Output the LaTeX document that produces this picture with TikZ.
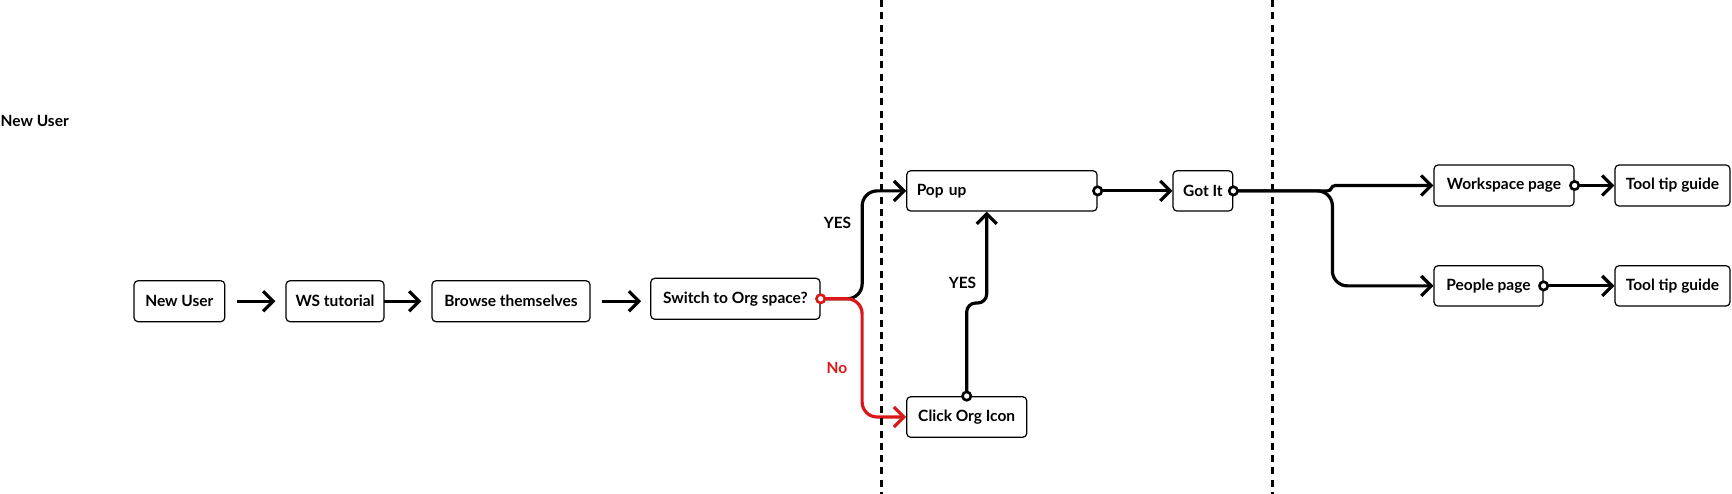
\documentclass[tikz,border=0pt]{standalone}
\usepackage{fontspec}
\setmainfont{Lato}
\usetikzlibrary{arrows.meta}
\definecolor{redline}{RGB}{218,24,24}
\begin{document}
\begin{tikzpicture}[x=1pt,y=-1pt,
  box/.style={draw=black, line width=1.2pt, rounded corners=4pt, inner sep=0pt,
    font=\bfseries\fontsize{15.5}{18}\selectfont, align=center},
  lbl/.style={font=\bfseries\fontsize{15.5}{18}\selectfont, inner sep=0pt},
  arr/.style={line width=3.2pt, -{Straight Barb[length=10pt,width=20pt]}},
  dot/.style={line width=2.6pt, fill=white},
  divider/.style={line width=3pt, dash pattern=on 7pt off 5.3pt}]
\useasboundingbox (0,0) rectangle (1732,494);

% boxes
\node[box, minimum width=90.7pt, minimum height=41pt] (nu) at (179.4,301.2) {New User};
\node[box, minimum width=98pt, minimum height=41pt] (wst) at (335,301.2) {WS tutorial};
\node[box, minimum width=158pt, minimum height=41pt] (br) at (511,301.2) {Browse themselves};
\node[box, minimum width=169.3pt, minimum height=41pt] (sw) at (735.4,298.8) {Switch to Org space?};
\node[box, minimum height=40.3pt, text width=170.3pt, align=left, inner xsep=10pt] (pop) at (1001.9,190.9) {Pop up};
\node[box, minimum width=59.7pt, minimum height=40.3pt] (got) at (1202.9,190.9) {Got It};
\node[box, minimum width=120pt, minimum height=40.6pt] (click) at (966.7,417) {Click Org Icon};
\node[box, minimum width=140pt, minimum height=41pt] (wp) at (1504,185.5) {Workspace page};
\node[box, minimum width=115pt, minimum height=41pt] (tt1) at (1672.5,185.5) {Tool tip guide};
\node[box, minimum width=109pt, minimum height=40.3pt] (pp) at (1488.5,285.9) {People page};
\node[box, minimum width=115pt, minimum height=40.3pt] (tt2) at (1672.5,285.9) {Tool tip guide};

% labels
\node[lbl, anchor=west] (title) at (0.5,121) {New User};
\node[lbl] (yes1) at (837.5,222.5) {YES};
\node[lbl, text=redline] (no) at (837,367.5) {No};
\node[lbl] (yes2) at (962.5,282.7) {YES};

% connectors
\draw[arr] ([xshift=12pt]nu.east) -- ([xshift=-10pt]wst.west);
\draw[arr] ([xshift=-1pt]wst.east) -- ([xshift=-10pt]br.west);
\draw[arr] ([xshift=11pt]br.east) -- ([xshift=-9pt]sw.west |- br.east);

\draw[arr, rounded corners=15pt] (sw.east) -| ([xshift=-44pt]pop.west) -- (pop.west);
\draw[arr, draw=redline, rounded corners=15pt] (sw.east) -| ([xshift=-44pt]click.west) -- (click.west);
\draw[dot, draw=redline] (sw.east) circle (4.2pt);

\coordinate (kink) at (986.7,303);
\draw[arr, rounded corners=9pt] (click.north) |- (kink) -- ([xshift=-15.2pt]pop.south);
\draw[dot] (click.north) circle (4.2pt);

\draw[arr] (pop.east) -- (got.west);
\draw[dot] (pop.east) circle (4.2pt);

\draw[arr] (got.east) -- ([xshift=-106pt]wp.west |- got.east)
  .. controls +(5,0) and +(-5,0) .. ([xshift=-98pt]wp.west) -- (wp.west);
\draw[arr, rounded corners=15pt] (got.east) -| ([xshift=-101pt]pp.west) -- (pp.west);
\draw[dot] (got.east) circle (4.2pt);

\draw[arr] (wp.east) -- (tt1.west);
\draw[dot] (wp.east) circle (4.2pt);
\draw[arr] (pp.east) -- (tt2.west);
\draw[dot] (pp.east) circle (4.2pt);

% dividers
\draw[divider] (881,0) -- (881,494);
\draw[divider] (1272,0) -- (1272,494);
\end{tikzpicture}
\end{document}
